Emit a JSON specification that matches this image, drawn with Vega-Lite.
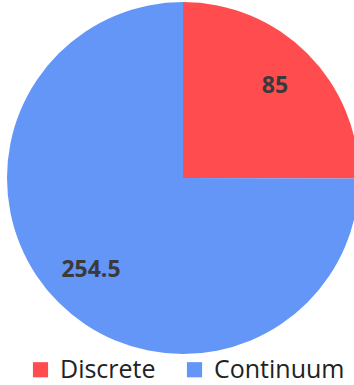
{
  "$schema": "https://vega.github.io/schema/vega-lite/v6.json",
  "width": 366,
  "height": 356,
  "padding": 0,
  "autosize": {"type": "pad"},
  "background": "white",
  "data": {"values": [
    {"category": "Discrete", "value": 85},
    {"category": "Continuum", "value": 254.5}
  ]},
  "encoding": {
    "theta": {"field": "value", "type": "quantitative", "stack": true},
    "order": {"field": "category", "sort": "descending"},
    "color": {
      "field": "category", "type": "nominal",
      "scale": {"domain": ["Discrete", "Continuum"], "range": ["#FF4D4F", "#6496F8"]},
      "legend": {
        "title": null, "orient": "none", "direction": "horizontal",
        "legendX": 28, "legendY": 357,
        "symbolType": "square", "symbolSize": 230, "symbolStrokeWidth": 0,
        "labelFont": "Open Sans", "labelFontSize": 25, "labelColor": "#222222",
        "labelOffset": 7, "columnPadding": 26, "labelLimit": 300
      }
    }
  },
  "layer": [
    {"mark": {"type": "arc", "outerRadius": 176}},
    {
      "mark": {"type": "text", "radius": 130, "font": "Open Sans", "fontWeight": "bold", "fontSize": 23, "fill": "#3A3A3A"},
      "encoding": {"text": {"field": "value", "type": "quantitative"}, "color": {"value": "#3A3A3A"}}
    }
  ]
}
